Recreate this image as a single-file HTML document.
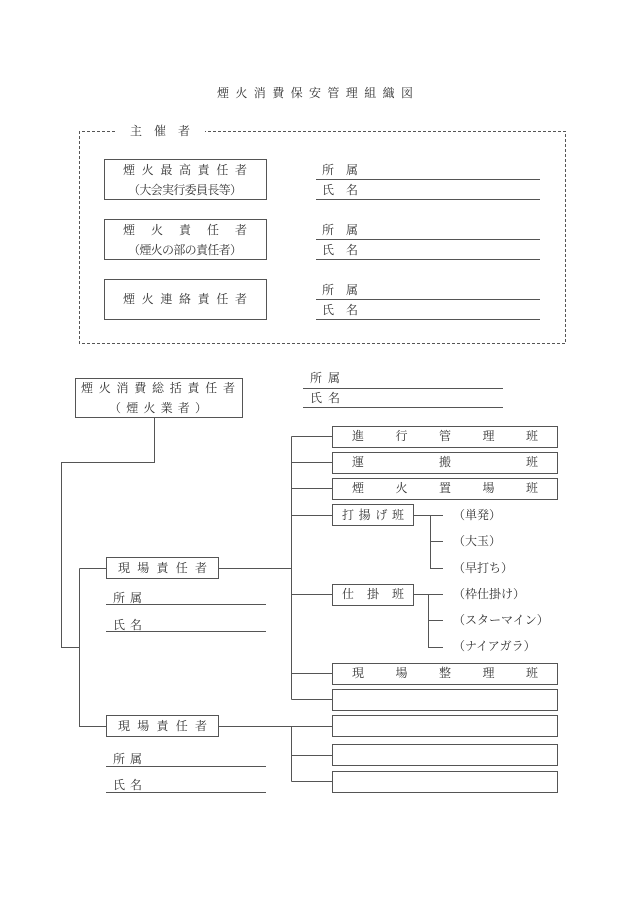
<!DOCTYPE html>
<html><head><meta charset="utf-8"><style>
html,body{margin:0;padding:0;background:#fff;}
svg{display:block}
text{font-family:"Liberation Serif","Noto Serif CJK SC","Noto Serif CJK JP",serif;font-size:12px;fill:#333;dominant-baseline:central;}
</style></head><body>
<svg width="630" height="915" viewBox="0 0 630 915" xmlns="http://www.w3.org/2000/svg">
<rect width="630" height="915" fill="#fff"/>
<g stroke="#555" stroke-width="1" fill="none">
<path d="M115,131.5 H79.5 V343.5 H565.5 V131.5 H205" stroke-dasharray="3,2"/>
<rect x="104.5" y="159.5" width="162" height="40"/>
<rect x="104.5" y="219.5" width="162" height="40"/>
<rect x="104.5" y="279.5" width="162" height="40"/>
<path d="M316,179.5H540M316,199.5H540M316,239.5H540M316,259.5H540M316,299.5H540M316,319.5H540"/>
<rect x="75.5" y="378.5" width="167" height="39"/>
<path d="M303,388.5H503M303,407.5H503"/>
<path d="M154.5,417V462.5H61.5V647.5H79.5"/>
<path d="M79.5,568.5V726.5H106M79.5,568.5H106"/>
<rect x="106.5" y="557.5" width="112" height="21"/>
<rect x="106.5" y="715.5" width="112" height="21"/>
<path d="M218,568.5H291.5M218,726.5H332"/>
<path d="M291.5,436.5V699.5M291.5,726.5V781.5"/>
<path d="M291.5,436.5H332M291.5,462.5H332M291.5,488.5H332M291.5,515.5H332M291.5,594.5H332M291.5,673.5H332M291.5,699.5H332M291.5,755.5H332M291.5,781.5H332"/>
<rect x="332.5" y="426.5" width="225" height="21"/>
<rect x="332.5" y="452.5" width="225" height="21"/>
<rect x="332.5" y="478.5" width="225" height="21"/>
<rect x="332.5" y="504.5" width="81" height="21"/>
<rect x="332.5" y="584.5" width="81" height="21"/>
<rect x="332.5" y="663.5" width="225" height="21"/>
<rect x="332.5" y="689.5" width="225" height="21"/>
<rect x="332.5" y="715.5" width="225" height="21"/>
<rect x="332.5" y="744.5" width="225" height="21"/>
<rect x="332.5" y="771.5" width="225" height="21"/>
<path d="M413,515.5H443M430.5,515.5V568.5H443M430.5,541.5H443"/>
<path d="M413,594.5H443M428.5,594.5V647.5H443M428.5,620.5H443"/>
<path d="M106,604.5H266M106,631.5H266M106,766.5H266M106,792.5H266"/>
</g>
<text x="217" y="93" textLength="196" lengthAdjust="spacing">煙火消費保安管理組織図</text>
<text x="130" y="131" textLength="60" lengthAdjust="spacing">主催者</text>
<text x="123" y="170" textLength="124" lengthAdjust="spacing">煙火最高責任者</text>
<text x="128" y="190" textLength="114" lengthAdjust="spacing">（大会実行委員長等）</text>
<text x="123" y="230" textLength="124" lengthAdjust="spacing">煙火責任者</text>
<text x="128" y="250" textLength="114" lengthAdjust="spacing">（煙火の部の責任者）</text>
<text x="123" y="299" textLength="124" lengthAdjust="spacing">煙火連絡責任者</text>
<g>
<text x="322" y="170" textLength="36" lengthAdjust="spacing">所属</text>
<text x="322" y="190" textLength="36" lengthAdjust="spacing">氏名</text>
<text x="322" y="230" textLength="36" lengthAdjust="spacing">所属</text>
<text x="322" y="250" textLength="36" lengthAdjust="spacing">氏名</text>
<text x="322" y="290" textLength="36" lengthAdjust="spacing">所属</text>
<text x="322" y="310" textLength="36" lengthAdjust="spacing">氏名</text>
</g>
<text x="81" y="388" textLength="154" lengthAdjust="spacing">煙火消費総括責任者</text>
<text x="109" y="408" textLength="98" lengthAdjust="spacing">（煙火業者）</text>
<text x="310" y="378" textLength="30" lengthAdjust="spacing">所属</text>
<text x="310" y="398" textLength="30" lengthAdjust="spacing">氏名</text>
<text x="352" y="436" textLength="186" lengthAdjust="spacing">進行管理班</text>
<text x="352" y="462" textLength="186" lengthAdjust="spacing">運搬班</text>
<text x="352" y="488" textLength="186" lengthAdjust="spacing">煙火置場班</text>
<text x="342" y="515" textLength="62" lengthAdjust="spacing">打揚げ班</text>
<text x="342" y="594" textLength="62" lengthAdjust="spacing">仕掛班</text>
<text x="352" y="673" textLength="186" lengthAdjust="spacing">現場整理班</text>
<text x="453" y="515">（単発）</text>
<text x="453" y="541">（大玉）</text>
<text x="453" y="568">（早打ち）</text>
<text x="453" y="594">（枠仕掛け）</text>
<text x="453" y="620">（スターマイン）</text>
<text x="453" y="646">（ナイアガラ）</text>
<text x="118" y="568" textLength="89" lengthAdjust="spacing">現場責任者</text>
<text x="118" y="726" textLength="89" lengthAdjust="spacing">現場責任者</text>
<text x="113" y="598" textLength="29" lengthAdjust="spacing">所属</text>
<text x="113" y="625" textLength="29" lengthAdjust="spacing">氏名</text>
<text x="113" y="759" textLength="29" lengthAdjust="spacing">所属</text>
<text x="113" y="785" textLength="29" lengthAdjust="spacing">氏名</text>
</svg>
</body></html>
